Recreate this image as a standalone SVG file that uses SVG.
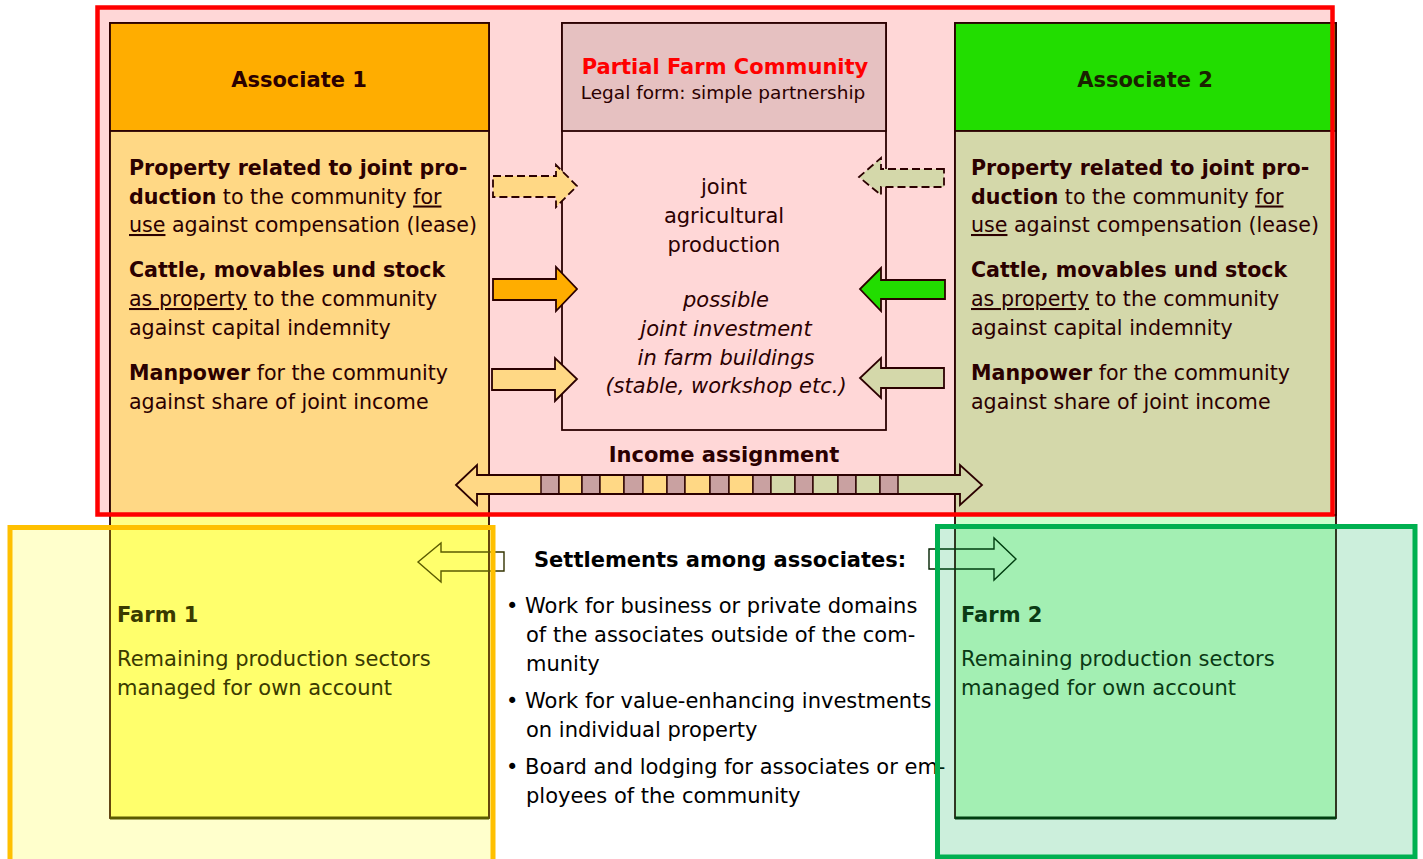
<svg xmlns="http://www.w3.org/2000/svg" width="1423" height="859" viewBox="0 0 1423 859">
<style>
text{font-family:"DejaVu Sans","Liberation Sans",sans-serif;font-size:21px;fill:#2b0000}
.col{font-size:20.6px}
.b{font-weight:bold}
.u{text-decoration:underline}
.i{font-style:italic}
.c{text-anchor:middle}
.box{stroke:#2b0000;stroke-width:1.8}
.cell{stroke:#2b0000;stroke-width:1.4}
.arr{stroke:#2b0000;stroke-width:1.8;stroke-linejoin:miter}
.dash{stroke-dasharray:8 4}
.st{fill:#000}
.f1{fill:#3a3a00}
.f2{fill:#0a3a14}
</style>
<rect x="0" y="0" width="1423" height="859" fill="#ffffff"/>
<g id="community-frame-bg">
<rect x="97.5" y="7.5" width="1235" height="507" fill="#ffd7d7"/>
</g>
<g id="associate1">
<rect class="box" x="110" y="23" width="379" height="795" fill="#ffff88"/>
<rect class="box" x="110" y="23" width="379" height="108" fill="#ffad00"/>
<rect class="box" x="110" y="131" width="379" height="384" fill="#ffd885"/>
<line x1="110" y1="818" x2="489" y2="818" stroke="#333300" stroke-width="3"/>
<text class="b c" x="299" y="87">Associate 1</text>
<text class="b col" x="129" y="175">Property related to joint pro-</text>
<text class="col" x="129" y="203.5"><tspan class="b">duction</tspan> to the community <tspan class="u">for</tspan></text>
<text class="col" x="129" y="232"><tspan class="u">use</tspan> against compensation (lease)</text>
<text class="b col" x="129" y="277">Cattle, movables und stock</text>
<text class="col" x="129" y="306"><tspan class="u">as property</tspan> to the community</text>
<text class="col" x="129" y="335">against capital indemnity</text>
<text class="col" x="129" y="380"><tspan class="b">Manpower</tspan> for the community</text>
<text class="col" x="129" y="409">against share of joint income</text>
</g>
<g id="associate2">
<rect class="box" x="955" y="23" width="381" height="795" fill="#ccffcc"/>
<rect class="box" x="955" y="23" width="381" height="108" fill="#22dd00"/>
<rect class="box" x="955" y="131" width="381" height="384" fill="#d4d8aa"/>
<line x1="955" y1="818" x2="1336" y2="818" stroke="#002200" stroke-width="3"/>
<text class="b c" x="1145" y="87" style="fill:#1a2200">Associate 2</text>
<text class="b col" x="971" y="175">Property related to joint pro-</text>
<text class="col" x="971" y="203.5"><tspan class="b">duction</tspan> to the community <tspan class="u">for</tspan></text>
<text class="col" x="971" y="232"><tspan class="u">use</tspan> against compensation (lease)</text>
<text class="b col" x="971" y="277">Cattle, movables und stock</text>
<text class="col" x="971" y="306"><tspan class="u">as property</tspan> to the community</text>
<text class="col" x="971" y="335">against capital indemnity</text>
<text class="col" x="971" y="380"><tspan class="b">Manpower</tspan> for the community</text>
<text class="col" x="971" y="409">against share of joint income</text>
</g>
<g id="community">
<rect class="box" x="562" y="23" width="324" height="407" fill="#ffd7d7"/>
<rect class="box" x="562" y="23" width="324" height="108" fill="#e6c1c1"/>
<text class="b c" x="725" y="74" style="fill:#ff0000">Partial Farm Community</text>
<text class="c" x="723" y="99" style="font-size:18.5px">Legal form: simple partnership</text>
<text class="c" x="724" y="194">joint</text>
<text class="c" x="724" y="222.5">agricultural</text>
<text class="c" x="724" y="251.5">production</text>
<text class="c i" x="726" y="307">possible</text>
<text class="c i" x="726" y="336">joint investment</text>
<text class="c i" x="726" y="364.5">in farm buildings</text>
<text class="c i" x="726" y="393">(stable, workshop etc.)</text>
<text class="b c" x="724" y="462">Income assignment</text>
</g>
<g id="community-frame">
<rect x="97.5" y="7.5" width="1235" height="507" fill="none" stroke="#ff0000" stroke-width="4.5"/>
</g>
<g id="connectors">
<polygon class="arr dash" points="493,176 556,176 556,165 577,186 556,207 556,197 493,197" fill="#ffd885"/>
<polygon class="arr" points="493,279 556,279 556,267 577,289 556,311 556,300 493,300" fill="#ffad00" stroke-width="2.4"/>
<polygon class="arr" points="492,369 555,369 555,358 577,379 555,401 555,390 492,390" fill="#ffd885"/>
<polygon class="arr dash" points="944,169 881,169 881,158 859,177 881,195 881,187 944,187" fill="#d4d8aa"/>
<polygon class="arr" points="945,280 881,280 881,268 860,289 881,311 881,299 945,299" fill="#22dd00" stroke-width="2.4"/>
<polygon class="arr" points="944,368 881,368 881,358 860,378 881,398 881,388 944,388" fill="#d4d8aa"/>
<g id="income-arrow">
<polygon points="456,485 477,465 477,475 720,475 720,494 477,494 477,505" fill="#ffd885"/>
<polygon points="720,475 960,475 960,465 982,485 960,505 960,494 720,494" fill="#d4d8aa"/>
<rect class="cell" x="541" y="475" width="18" height="19" fill="#c9a1a1"/>
<rect class="cell" x="559" y="475" width="23" height="19" fill="#ffd885"/>
<rect class="cell" x="582" y="475" width="18" height="19" fill="#c9a1a1"/>
<rect class="cell" x="600" y="475" width="24" height="19" fill="#ffd885"/>
<rect class="cell" x="624" y="475" width="19" height="19" fill="#c9a1a1"/>
<rect class="cell" x="643" y="475" width="24" height="19" fill="#ffd885"/>
<rect class="cell" x="667" y="475" width="18" height="19" fill="#c9a1a1"/>
<rect class="cell" x="685" y="475" width="25" height="19" fill="#ffd885"/>
<rect class="cell" x="710" y="475" width="19" height="19" fill="#c9a1a1"/>
<rect class="cell" x="729" y="475" width="24" height="19" fill="#ffd885"/>
<rect class="cell" x="753" y="475" width="18" height="19" fill="#c9a1a1"/>
<rect class="cell" x="771" y="475" width="24" height="19" fill="#d4d8aa"/>
<rect class="cell" x="795" y="475" width="18" height="19" fill="#c9a1a1"/>
<rect class="cell" x="813" y="475" width="25" height="19" fill="#d4d8aa"/>
<rect class="cell" x="838" y="475" width="18" height="19" fill="#c9a1a1"/>
<rect class="cell" x="856" y="475" width="24" height="19" fill="#d4d8aa"/>
<rect class="cell" x="880" y="475" width="18" height="19" fill="#c9a1a1"/>
<polygon class="arr" points="456,485 477,465 477,475 960,475 960,465 982,485 960,505 960,494 477,494 477,505" fill="none" stroke-width="1.5"/>
</g>
<polygon points="504,552 441,552 441,543 418,562 441,582 441,571 504,571" fill="none" stroke="#333300" stroke-width="1.4"/>
<polygon points="929,549 994,549 994,538 1016,559 994,580 994,569 929,569" fill="none" stroke="#002200" stroke-width="1.4"/>
</g>
<g id="settlements">
<text class="b st" x="534" y="567">Settlements among associates:</text>
<text class="st" x="506" y="613">• Work for business or private domains</text>
<text class="st" x="526" y="642">of the associates outside of the com-</text>
<text class="st" x="526" y="671">munity</text>
<text class="st" x="506" y="708">• Work for value-enhancing investments</text>
<text class="st" x="526" y="737">on individual property</text>
<text class="st" x="506" y="774">• Board and lodging for associates or em-</text>
<text class="st" x="526" y="803">ployees of the community</text>
</g>
<g id="farm1">
<rect x="10" y="527.5" width="483" height="345" fill="rgba(255,255,0,0.2)" stroke="#ffc000" stroke-width="5"/>
<text class="b f1" x="117" y="622">Farm 1</text>
<text class="f1" x="117" y="666">Remaining production sectors</text>
<text class="f1" x="117" y="695">managed for own account</text>
</g>
<g id="farm2">
<rect x="937.5" y="526.5" width="477.5" height="330.5" fill="rgba(0,176,80,0.2)" stroke="#00b050" stroke-width="5"/>
<text class="b f2" x="961" y="622">Farm 2</text>
<text class="f2" x="961" y="666">Remaining production sectors</text>
<text class="f2" x="961" y="695">managed for own account</text>
</g>
</svg>
